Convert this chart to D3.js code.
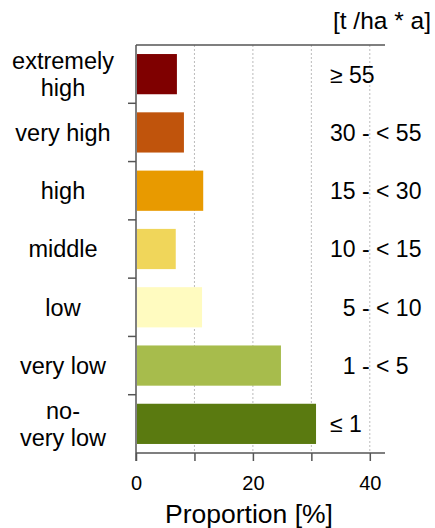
<!DOCTYPE html>
<html><head><meta charset="utf-8">
<script src="https://cdn.jsdelivr.net/npm/d3@7"></script>
<style>body{margin:0;background:#fff}svg{display:block}text{font-family:"Liberation Sans",Arial,sans-serif;fill:#000}</style>
</head><body><div id="c"></div>
<script>
const categories = [["extremely","high"],["very high"],["high"],["middle"],["low"],["very low"],["no-","very low"]];
const values = [7.0, 8.2, 11.5, 6.8, 11.3, 24.8, 30.8];
const ranges = ["≥ 55","30 - < 55","15 - < 30","10 - < 15","\u20075 - < 10","\u20071 - < 5","≤ 1"];
const colors = ["#7f0000","#c0540c","#e89a00","#f0d65a","#fffbc0","#a7bc4c","#5a7a10"];
const xTicks = [0,10,20,30,40];
const xTickLabels = [0,20,40];
const unitLabel = "[t /ha * a]";
const xTitle = "Proportion [%]";

(function(){
const W=435,H=528;
const svg=d3.select("#c").append("svg").attr("width",W).attr("height",H);
const pl=136,pr=385,pt=45,pb=453;
const x=d3.scaleLinear().domain([0,42.6]).range([pl,pr]);
const y=d3.scaleBand().domain(d3.range(categories.length)).range([pt,pb]).paddingInner(0.31).paddingOuter(0.155);
const yb=d3.scaleBand().domain(d3.range(categories.length)).range([pt,pb]);

// gridlines
svg.append("g").selectAll("line").data(xTicks.filter(d=>d>0)).join("line")
  .attr("x1",d=>x(d)).attr("x2",d=>x(d)).attr("y1",pt).attr("y2",pb)
  .attr("stroke","#bbb").attr("stroke-width",1).attr("stroke-dasharray","2,2");

// bars
svg.append("g").selectAll("rect").data(values).join("rect")
  .attr("x",x(0)+1).attr("y",(d,i)=>y(i)).attr("height",y.bandwidth())
  .attr("width",d=>x(d)-x(0)-1).attr("fill",(d,i)=>colors[i]);

// top frame line
svg.append("line").attr("x1",pl).attr("x2",pr).attr("y1",pt).attr("y2",pt).attr("stroke","#555").attr("stroke-width",1.5);
// x axis
const xa=svg.append("g").attr("transform",`translate(0,${pb})`)
  .call(d3.axisBottom(x).tickValues(xTicks).tickSize(8).tickFormat(d=>xTickLabels.includes(d)?d:""));
xa.select(".domain").attr("d",`M${pl},0H${pr}`).attr("stroke","#555").attr("stroke-width",1.5);
xa.selectAll(".tick line").attr("stroke","#555").attr("stroke-width",1.5);
xa.selectAll(".tick text").attr("font-size",20).attr("font-family","Liberation Sans, Arial, sans-serif").attr("dy","1.3em").attr("fill","#111");
// y axis
svg.append("line").attr("x1",pl).attr("x2",pl).attr("y1",pt).attr("y2",pb+8).attr("stroke","#555").attr("stroke-width",1.5);
svg.append("g").selectAll("line").data(d3.range(1,categories.length)).join("line")
  .attr("x1",pl-8).attr("x2",pl).attr("y1",i=>yb(i)).attr("y2",i=>yb(i))
  .attr("stroke","#555").attr("stroke-width",1.5);

// category labels
const lh=27;
svg.append("g").selectAll("text").data(categories).join("text")
  .attr("x",63).attr("text-anchor","middle").attr("font-size",23.5)
  .attr("y",(d,i)=>yb(i)+yb.bandwidth()/2+8.4)
  .each(function(d){
    const t=d3.select(this);
    d.forEach((s,k)=>t.append("tspan").attr("x",63).attr("dy",k===0?(-(d.length-1)*lh/2):lh).text(s));
  });

// range labels
svg.append("g").selectAll("text").data(ranges).join("text")
  .attr("x",330).attr("font-size",23)
  .attr("y",(d,i)=>yb(i)+yb.bandwidth()/2+8.4).text(d=>d);

svg.append("text").attr("x",431).attr("y",29).attr("text-anchor","end").attr("font-size",24.5).text(unitLabel);
svg.append("text").attr("x",249).attr("y",523).attr("text-anchor","middle").attr("font-size",26.5).text(xTitle);
})();
</script></body></html>
